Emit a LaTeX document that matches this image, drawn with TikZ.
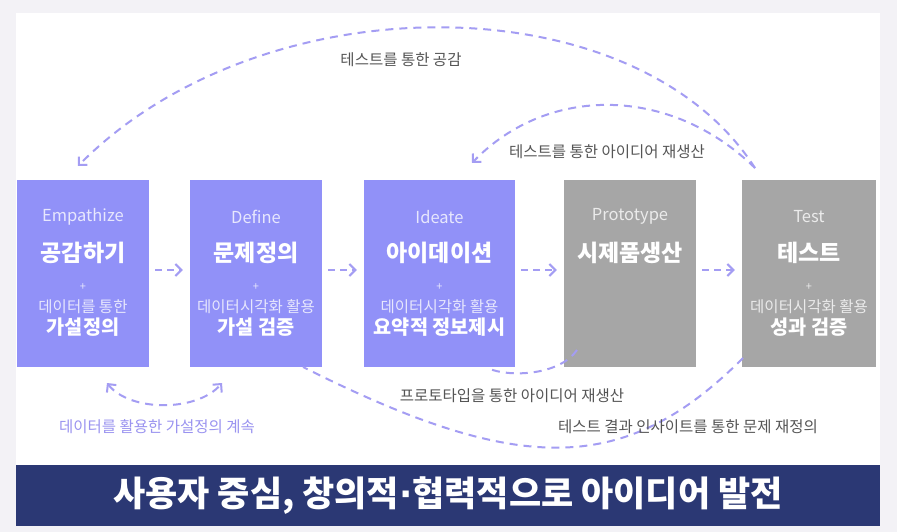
\documentclass[tikz,border=0pt]{standalone}
\usepackage{fontspec}
\setmainfont{Noto Sans CJK KR}
\newfontfamily\djv{DejaVu Sans}
\usetikzlibrary{arrows.meta,calc}
\definecolor{cBg}{HTML}{F3F2F6}
\definecolor{cPurple}{HTML}{9191F8}
\definecolor{cGray}{HTML}{A6A6A6}
\definecolor{cNavy}{HTML}{2B3874}
\definecolor{cDash}{HTML}{A49DF3}
\definecolor{cLbl}{HTML}{555555}
\definecolor{cLav}{HTML}{9A93F0}
\begin{document}
\begin{tikzpicture}[x=1pt,y=-1pt,
  box/.style={minimum width=132pt, minimum height=187pt, inner sep=0pt, draw=none},
  en/.style={font=\fontsize{16.5}{16.5}\selectfont, inner sep=0pt},
  ko/.style={font=\bfseries\fontsize{23}{23}\selectfont, text=white, inner sep=0pt},
  plus/.style={font=\fontsize{11}{11}\selectfont, inner sep=0pt},
  sm/.style={font=\fontsize{15.5}{15.5}\selectfont, inner sep=0pt},
  kob/.style={font=\bfseries\fontsize{19.7}{19.7}\selectfont, text=white, inner sep=0pt},
  curve/.style={draw=cDash, line width=2pt, dash pattern=on 8pt off 6pt},
  tip/.style={-{Straight Barb[length=6pt,width=12pt]}},
  lab/.style={font=\fontsize{15.5}{15.5}\selectfont, text=cLbl, inner sep=0pt},
  ptxt/.style={text=white!78!cPurple},
  gtxt/.style={text=white!78!cGray},
]
% background and panel
\fill[cBg] (0,0) rectangle (897,532);
\useasboundingbox (0,0) rectangle (897,532);
\fill[white] (16,13) rectangle (880,465);

% boxes
\node[box, fill=cPurple] (emp) at (83,273.5) {};
\node[box, fill=cPurple] (def) at (256,273.5) {};
\node[box, fill=cPurple, minimum width=151pt] (ide) at (439.5,273.5) {};
\node[box, fill=cGray] (pro) at (630,273.5) {};
\node[box, fill=cGray, minimum width=134pt] (tst) at (809,273.5) {};

% Empathize
\node[en, ptxt] (emp-en) at ($(emp.north)+(0,37)$) {Empathize};
\node[ko] (emp-ko) at ($(emp.north)+(0,73)$) {공감하기};
\node[plus, ptxt] (emp-pl) at ($(emp.north)+(0,107)$) {+};
\node[sm, ptxt] (emp-sm) at ($(emp.north)+(0,127)$) {데이터를 통한};
\node[kob] (emp-b) at ($(emp.north)+(0,147)$) {가설정의};
% Define
\node[en, ptxt] (def-en) at ($(def.north)+(0,37)$) {Define};
\node[ko] (def-ko) at ($(def.north)+(0,73)$) {문제정의};
\node[plus, ptxt] (def-pl) at ($(def.north)+(0,107)$) {+};
\node[sm, ptxt] (def-sm) at ($(def.north)+(0,127)$) {데이터시각화 활용};
\node[kob] (def-b) at ($(def.north)+(0,147)$) {가설 검증};
% Ideate
\node[en, ptxt] (ide-en) at ($(ide.north)+(0,37)$) {Ideate};
\node[ko] (ide-ko) at ($(ide.north)+(0,73)$) {아이데이션};
\node[plus, ptxt] (ide-pl) at ($(ide.north)+(0,107)$) {+};
\node[sm, ptxt] (ide-sm) at ($(ide.north)+(0,127)$) {데이터시각화 활용};
\node[kob] (ide-b) at ($(ide.north)+(0,147)$) {요약적 정보제시};
% Prototype
\node[en, gtxt] (pro-en) at ($(pro.north)+(0,37)$) {Prototype};
\node[ko] (pro-ko) at ($(pro.north)+(0,73)$) {시제품생산};
% Test
\node[en, gtxt] (tst-en) at ($(tst.north)+(0,37)$) {Test};
\node[ko] (tst-ko) at ($(tst.north)+(0,73)$) {테스트};
\node[plus, gtxt] (tst-pl) at ($(tst.north)+(0,107)$) {+};
\node[sm, gtxt] (tst-sm) at ($(tst.north)+(0,127)$) {데이터시각화 활용};
\node[kob] (tst-b) at ($(tst.north)+(0,147)$) {성과 검증};

% arrows between boxes
\foreach \a/\b in {emp/def, def/ide, ide/pro, pro/tst}
  \draw[curve, tip, dash pattern=on 7pt off 5pt, shorten <=6pt, shorten >=7pt]
    ([yshift=3.5pt]\a.east) -- ([yshift=3.5pt]\b.west);

% curve endpoints
\coordinate (c1s) at (755,168);
\coordinate (c1e) at (78,166);
\coordinate (c2e) at (472,163);
\coordinate (c3s) at (107,383);
\coordinate (c3e) at (222,383);
\coordinate (c4s) at (577,350);
\coordinate (c4e) at (487,368);
\coordinate (c5s) at (743,358);
\coordinate (c5e) at (303,367);

% curves
\draw[curve, tip] (c1s) .. controls (635,-19) and (261,-19) .. (c1e);
\draw[curve, tip] (c1s) .. controls (670,85) and (547,85) .. (c2e);
\draw[curve, {Straight Barb[length=6pt,width=12pt]}-{Straight Barb[length=6pt,width=12pt]}]
  (c3s) .. controls (130,412) and (197,412) .. (c3e);
\draw[curve] (c4s) .. controls (560,375) and (510,378) .. (c4e);
\draw[curve] (c5s) .. controls (625,476) and (520,476) .. (c5e);

% labels
\node[lab] (l1) at (401,60) {테스트를 통한 공감};
\node[lab] (l2) at (607,152) {테스트를 통한 아이디어 재생산};
\node[lab, text=cLav] (l3) at (157,427) {데이터를 활용한 가설정의 계속};
\node[lab] (l4) at (512,396) {프로토타입을 통한 아이디어 재생산};
\node[lab] (l5) at (688,427) {테스트 결과 인사이트를 통한 문제 재정의};

% banner
\node[fill=cNavy, minimum width=864pt, minimum height=61pt, inner sep=0pt,
      text=white, font=\bfseries\fontsize{35}{35}\selectfont] (banner) at (448,495.5)
  {사용자 중심, 창의적{\djv\bfseries ·}협력적으로 아이디어 발전};
\end{tikzpicture}
\end{document}
